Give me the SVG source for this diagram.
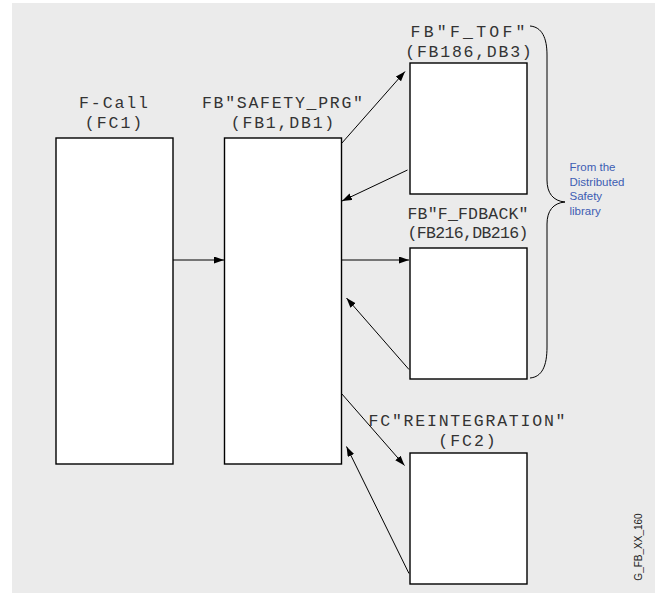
<svg xmlns="http://www.w3.org/2000/svg" width="655" height="595" viewBox="0 0 655 595">
<style>
.box{fill:#fff;stroke:#000;stroke-width:1.4}
.lbl{font-family:"Liberation Mono","Courier New",monospace;font-size:16.5px;fill:#333;text-anchor:middle}
.con{stroke:#000;stroke-width:1;fill:none;marker-end:url(#ah)}
.note{font-family:"Liberation Sans",Arial,sans-serif;font-size:11.5px;fill:#3d5db3}
.id{font-family:"Liberation Sans",Arial,sans-serif;font-size:10px;fill:#222;text-anchor:middle}
</style>
<defs>
<marker id="ah" markerUnits="userSpaceOnUse" markerWidth="11" markerHeight="8" refX="10" refY="3.5" orient="auto">
<path d="M0,0 L10,3.5 L0,7 Z" fill="#000"/>
</marker>
</defs>
<rect x="12" y="3" width="643" height="590" fill="#ebebeb"/>
<g id="fcall">
<rect class="box" x="56" y="138" width="117" height="326"/>
<text class="lbl" x="113.5" y="108" textLength="69" lengthAdjust="spacing">F-Call</text>
<text class="lbl" x="113.5" y="127.5" textLength="57.5" lengthAdjust="spacing">(FC1)</text>
</g>
<g id="safety_prg">
<rect class="box" x="224.5" y="138" width="117" height="326"/>
<text class="lbl" x="282.5" y="108" textLength="161" lengthAdjust="spacing">FB"SAFETY_PRG"</text>
<text class="lbl" x="282.5" y="127.5" textLength="103.5" lengthAdjust="spacing">(FB1,DB1)</text>
</g>
<g id="f_tof">
<rect class="box" x="410" y="63" width="117" height="131"/>
<text class="lbl" x="468" y="37" textLength="115" lengthAdjust="spacing">FB"F_TOF"</text>
<text class="lbl" x="468.5" y="56.5" textLength="126.5" lengthAdjust="spacing">(FB186,DB3)</text>
</g>
<g id="f_fdback">
<rect class="box" x="410" y="248" width="117" height="131"/>
<text class="lbl" x="468" y="219.3" textLength="121" lengthAdjust="spacing">FB"F_FDBACK"</text>
<text class="lbl" x="468" y="238.3" textLength="121" lengthAdjust="spacing">(FB216,DB216)</text>
</g>
<g id="reintegration">
<rect class="box" x="410" y="453" width="117" height="131"/>
<text class="lbl" x="467" y="425.5" textLength="197" lengthAdjust="spacing">FC"REINTEGRATION"</text>
<text class="lbl" x="467" y="445.5" textLength="57.5" lengthAdjust="spacing">(FC2)</text>
</g>
<g id="connectors">
<line class="con" x1="173" y1="260" x2="224" y2="260"/>
<line class="con" x1="341.5" y1="143.5" x2="405" y2="71.5"/>
<line class="con" x1="407.5" y1="170" x2="342" y2="201"/>
<line class="con" x1="341.5" y1="260" x2="409" y2="260"/>
<line class="con" x1="409" y1="369.5" x2="346.5" y2="298"/>
<line class="con" x1="341.5" y1="393.5" x2="404.5" y2="465.5"/>
<line class="con" x1="409" y1="573.5" x2="346.5" y2="446.5"/>
</g>
<g id="library-brace">
<path d="M530,26 C542,27 547,38 547,55 L547,180 C547,193 553,201 565,202 C553,203 547,211 547,224 L547,347 C547,366 542,377 530,378" fill="none" stroke="#000" stroke-width="1"/>
<text class="note" x="569.5" y="170.7">From the</text>
<text class="note" x="569.5" y="185.5">Distributed</text>
<text class="note" x="569.5" y="200">Safety</text>
<text class="note" x="569.5" y="214.5">library</text>
</g>
<text class="id" transform="translate(641.5,547) rotate(-90)">G_FB_XX_160</text>
</svg>
